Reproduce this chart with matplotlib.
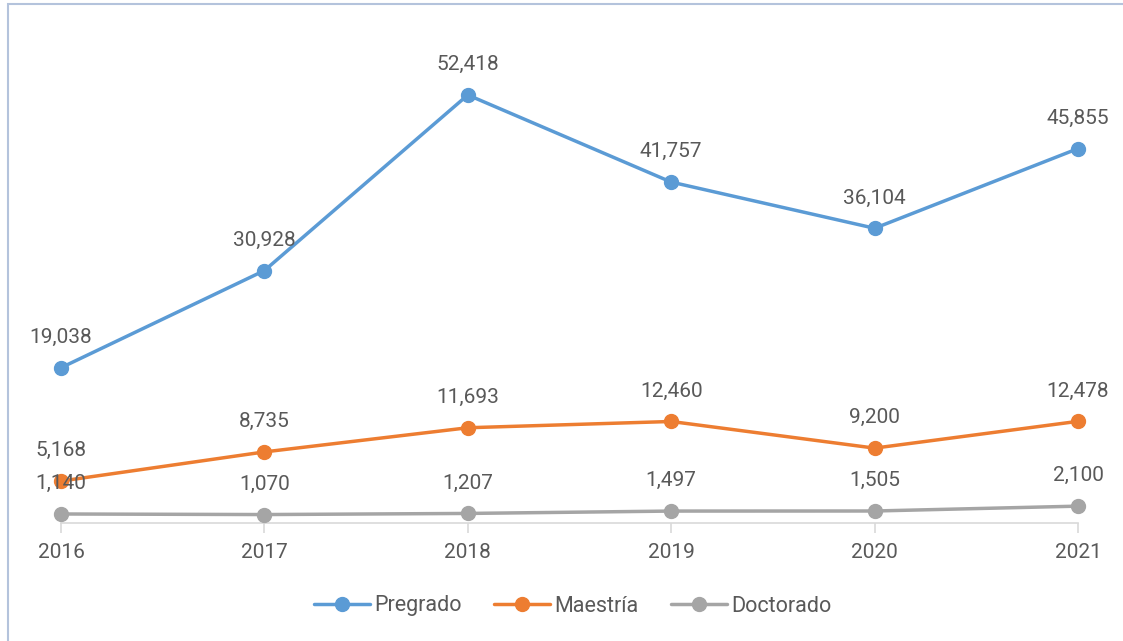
import matplotlib.pyplot as plt
from matplotlib.patches import Rectangle

# data
years = ['2016', '2017', '2018', '2019', '2020', '2021']
pregrado = [19038, 30928, 52418, 41757, 36104, 45855]
maestria = [5168, 8735, 11693, 12460, 9200, 12478]
doctorado = [1140, 1070, 1207, 1497, 1505, 2100]

series = [('Pregrado', pregrado, '#5b9bd5'),
          ('Maestría', maestria, '#ed7d31'),
          ('Doctorado', doctorado, '#a5a5a5')]

plt.rcParams['font.family'] = ['Roboto', 'DejaVu Sans']
txt = '#595959'

fig = plt.figure(figsize=(11.23, 6.41), dpi=100)
ax = fig.add_axes([61 / 1123, 1 - 523.3 / 641, (1078 - 61) / 1123, (523.3 - 33) / 641])

x = list(range(len(years)))
for name, vals, col in series:
    ax.plot(x, vals, color=col, lw=2.5, marker='o', ms=10, label=name,
            solid_capstyle='round')
    for xi, v in zip(x, vals):
        ax.annotate(f'{v:,}', (xi, v), xytext=(0, 15), textcoords='offset points',
                    ha='center', va='bottom', fontsize=15, color=txt)

ax.set_xlim(0, len(years) - 1)
ax.set_ylim(0, 60000)
ax.set_xticks(x)
ax.set_xticklabels(years, fontsize=15, color=txt)
ax.set_yticks([])
for s in ['top', 'right', 'left']:
    ax.spines[s].set_visible(False)
ax.spines['bottom'].set_color('#d9d9d9')
ax.spines['bottom'].set_linewidth(1.2)
ax.spines['bottom'].set_zorder(0)
ax.tick_params(axis='x', direction='out', length=7, width=1.2, color='#d9d9d9', pad=7)
for ln in ax.lines:
    ln.set_clip_on(False)

fig.legend(loc='center', bbox_to_anchor=(0.51, 1 - 606 / 641), ncol=3, frameon=False,
           fontsize=15.5, labelcolor=txt, handlelength=2.6, handletextpad=0.2,
           columnspacing=1.5)

# chart frame
fig.patches.append(Rectangle((8 / 1123, -0.1), 1.2, 1 - 4 / 641 + 0.1,
                             transform=fig.transFigure, fill=False,
                             edgecolor='#b4c3dc', lw=1.5))

fig.savefig('out.png', dpi=100)
